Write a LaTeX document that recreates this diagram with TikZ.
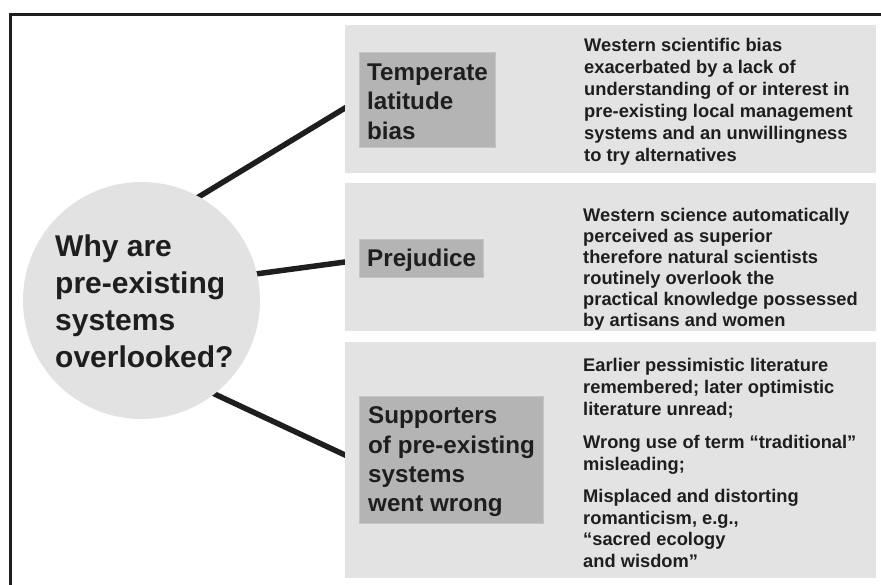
\documentclass[tikz,border=0pt]{standalone}
\usepackage{fontspec}
\setmainfont{Liberation Sans}
\usetikzlibrary{backgrounds}
\definecolor{panelgray}{HTML}{E3E3E3}
\definecolor{boxgray}{HTML}{B4B4B4}
\definecolor{boxedge}{HTML}{C4C4C4}
\definecolor{circgray}{HTML}{E2E2E2}
\definecolor{ink}{HTML}{1E1E1E}
\begin{document}
\begin{tikzpicture}[x=1pt,y=-1pt,
  panel/.style={fill=panelgray, draw=none, anchor=north west, inner sep=0, minimum width=531},
  labelbox/.style={fill=boxgray, draw=boxedge, line width=0.8, anchor=north west, inner sep=0},
  bigtxt/.style={anchor=north west, inner sep=0, align=left, text=ink, font=\bfseries\fontsize{24.2}{29.3}\selectfont},
  desc/.style={anchor=north west, inner sep=0, align=left, text=ink, font=\bfseries\fontsize{18.3}{#1}\selectfont},
  conn/.style={line width=5.5, draw=ink, shorten <=-6, shorten >=-6},
  frameline/.style={line width=3, draw=ink}]
\useasboundingbox (0,0) rectangle (881,585);
\draw[frameline] (10.5,585) -- (10.5,14.3) -- (881,14.3);

% panels
\node[panel, minimum height=148] (p1) at (345,25) {};
\node[panel, minimum height=148] (p2) at (345,183) {};
\node[panel, minimum height=236] (p3) at (345,342) {};

% central circle
\node[circle, fill=circgray, draw=none, inner sep=0, minimum size=237] (circ) at (141.5,300.5) {};
\node[anchor=north west, inner sep=0, align=left, text=ink,
      font=\bfseries\fontsize{30}{37}\selectfont] (q) at (55,234.5)
      {Why are\\pre-existing\\systems\\overlooked?};

% label boxes
\node[labelbox, minimum width=136, minimum height=95] (b1) at (359,52) {};
\node[bigtxt] (t1) at (367,63.8) {Temperate\\latitude\\bias};
\node[labelbox, minimum width=124, minimum height=38] (b2) at (359,239) {};
\node[bigtxt, anchor=base west] (t2) at (367,267) {Prejudice};
\node[labelbox, minimum width=184, minimum height=127] (b3) at (359,396) {};
\node[bigtxt] (t3) at (368,406.8) {Supporters\\of pre-existing\\systems\\went wrong};

% descriptions
\node[desc=22] (d1) at (584,37.9)
  {Western scientific bias\\exacerbated by a lack of\\understanding of or interest in\\pre-existing local management\\systems and an unwillingness\\to try alternatives};
\node[desc=21] (d2) at (583,207.6)
  {Western science automatically\\perceived as superior\\therefore natural scientists\\routinely overlook the\\practical knowledge possessed\\by artisans and women};
\node[desc=21.7] (d3) at (583,358.4)
  {Earlier pessimistic literature\\remembered; later optimistic\\literature unread;\\[12]
   Wrong use of term “traditional”\\misleading;\\[10]
   Misplaced and distorting\\romanticism, e.g.,\\“sacred ecology\\and wisdom”};

% connector end points on the panels' left edges
\coordinate (e1) at (345,108);
\coordinate (e2) at (345,262);
\coordinate (e3) at (345,455);

\begin{scope}[on background layer]
  \draw[conn] (circ.61) -- (e1);
  \draw[conn] (circ.13.9) -- (e2);
  \draw[conn] (circ.-52) -- (e3);
\end{scope}
\end{tikzpicture}
\end{document}
